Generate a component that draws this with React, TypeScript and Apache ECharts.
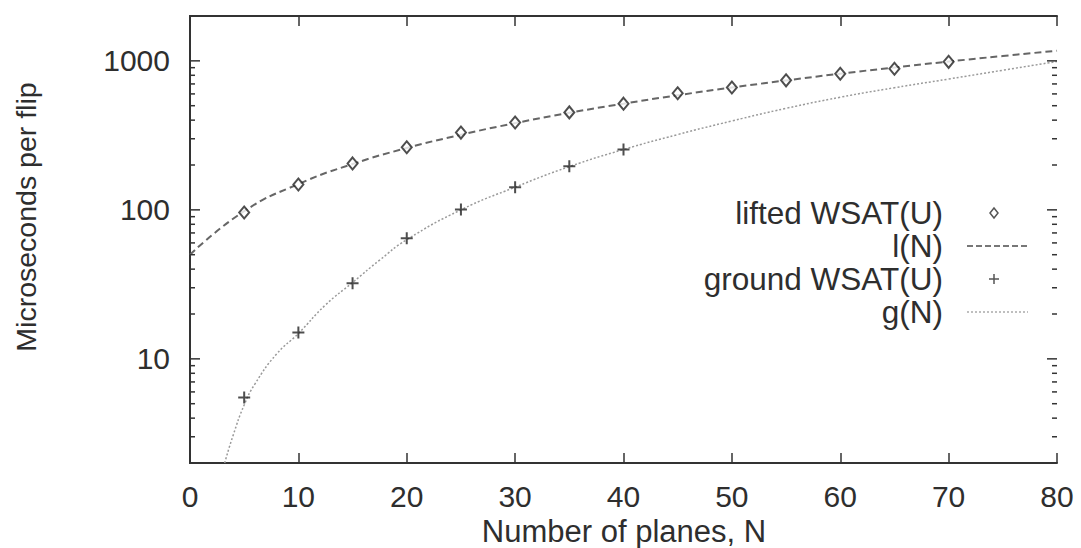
import React, { useEffect, useRef } from "react";
import * as echarts from "echarts";

// ---- data ----
const liftedN = [5, 10, 15, 20, 25, 30, 35, 40, 45, 50, 55, 60, 65, 70];
const liftedUs = [96, 148, 205, 263, 330, 386, 451, 516, 606, 663, 740, 819, 885, 985];

const groundN = [5, 10, 15, 20, 25, 30, 35, 40];
const groundUs = [5.5, 15.0, 32.2, 64.4, 100.6, 142, 196, 254];

const lN = [0, 5, 10, 15, 20, 25, 30, 35, 40, 45, 50, 55, 60, 65, 70, 75, 80];
const lUs = [50, 98, 149, 203, 260, 319, 382, 448, 516, 588, 662, 739, 820, 903, 989, 1078, 1170];

const gN = [3.2, 4, 5, 6, 8, 10, 12.5, 15, 17.5, 20, 25, 30, 35, 40, 45, 50, 55, 60, 65, 70, 75, 80];
const gUs = [2.0, 3.1, 4.9, 6.8, 10.8, 14.8, 23, 32.5, 46, 63, 100, 142, 195, 254, 320, 395, 480, 570, 660, 755, 865, 990];

const yMajorTicks = [10, 100, 1000];
const yMinorTicks = [3, 4, 5, 6, 7, 8, 9, 20, 30, 40, 50, 60, 70, 80, 90, 200, 300, 400, 500, 600, 700, 800, 900, 2000];

const legendLabels = ["lifted WSAT(U)", "l(N)", "ground WSAT(U)", "g(N)"];
const xTitle = "Number of planes, N";
const yTitle = "Microseconds per flip";

const FONT = "'Liberation Sans', Arial, Helvetica, sans-serif";
const TXT = "#2e2e2e";

const plusPath = "path://M5,0h2v5h5v2h-5v5h-2v-5h-5v-2h5z";

export default function App() {
  const ref = useRef<HTMLDivElement>(null);
  useEffect(() => {
    document.body.style.margin = "0";
    const chart = echarts.init(ref.current!, null, { renderer: "svg" });

    const tickData = [
      ...yMajorTicks.map((v) => [0, v, 1]),
      ...yMinorTicks.map((v) => [0, v, 0]),
    ];

    const lx = 943;
    const rows = [213, 246, 279, 312];
    const s1 = 967;
    const s2 = 1028;
    const mx = 994;

    const graphic: any[] = [
      {
        type: "text",
        x: 26,
        y: 217,
        rotation: Math.PI / 2,
        style: { text: yTitle, fontSize: 28.5, fontFamily: FONT, fill: TXT, align: "center", verticalAlign: "middle" },
      },
      {
        type: "text",
        x: 624,
        y: 531,
        style: { text: xTitle, fontSize: 31, fontFamily: FONT, fill: TXT, align: "center", verticalAlign: "middle" },
      },
      ...legendLabels.map((t, i) => ({
        type: "text",
        x: lx,
        y: rows[i],
        style: { text: t, fontSize: 31.5, fontFamily: FONT, fill: TXT, align: "right", verticalAlign: "middle" },
      })),
      {
        type: "polygon",
        shape: { points: [[mx, rows[0] - 5], [mx + 4, rows[0]], [mx, rows[0] + 5], [mx - 4, rows[0]]] },
        style: { fill: "none", stroke: "#555", lineWidth: 1.5 },
      },
      {
        type: "line",
        shape: { x1: s1, y1: rows[1], x2: s2, y2: rows[1] },
        style: { stroke: "#777", lineWidth: 2, lineDash: [6, 3] },
      },
      {
        type: "line",
        shape: { x1: mx - 5, y1: rows[2], x2: mx + 5, y2: rows[2] },
        style: { stroke: "#555", lineWidth: 1.5 },
      },
      {
        type: "line",
        shape: { x1: mx, y1: rows[2] - 5, x2: mx, y2: rows[2] + 5 },
        style: { stroke: "#555", lineWidth: 1.5 },
      },
      {
        type: "line",
        shape: { x1: s1, y1: rows[3], x2: s2, y2: rows[3] },
        style: { stroke: "#aaa", lineWidth: 1.5, lineDash: [2, 2] },
      },
    ];

    const axisLine = { show: true, lineStyle: { color: "#333", width: 2 } };

    chart.setOption({
      animation: false,
      grid: { left: 190, right: 24, top: 16, bottom: 85, containLabel: false },
      xAxis: [
        {
          type: "value",
          min: 0,
          max: 80,
          interval: 10,
          position: "bottom",
          axisLine,
          axisTick: { show: true, inside: true, length: 10, lineStyle: { color: "#333", width: 1.5 } },
          axisLabel: { fontSize: 30, fontFamily: FONT, color: TXT, margin: 18 },
          splitLine: { show: false },
        },
        {
          type: "value",
          min: 0,
          max: 80,
          interval: 10,
          position: "top",
          axisLine,
          axisTick: { show: true, inside: true, length: 10, lineStyle: { color: "#333", width: 1.5 } },
          axisLabel: { show: false },
          splitLine: { show: false },
        },
      ],
      yAxis: [
        {
          type: "log",
          logBase: 10,
          min: 2,
          max: 2000,
          position: "left",
          axisLine,
          axisTick: { show: false },
          axisLabel: {
            fontSize: 30,
            fontFamily: FONT,
            color: TXT,
            margin: 20,
            formatter: (v: number) => {
              const r = Math.round(v);
              return yMajorTicks.includes(r) ? String(r) : "";
            },
          },
          splitLine: { show: false },
        },
        {
          type: "log",
          logBase: 10,
          min: 2,
          max: 2000,
          position: "right",
          axisLine,
          axisTick: { show: false },
          axisLabel: { show: false },
          splitLine: { show: false },
        },
      ],
      graphic,
      series: [
        {
          type: "custom",
          silent: true,
          xAxisIndex: 0,
          yAxisIndex: 0,
          encode: { x: 0, y: 1 },
          data: tickData,
          z: 5,
          renderItem: (params: any, api: any) => {
            const v = api.value(1);
            const major = api.value(2) === 1;
            const len = major ? 10 : 5;
            const pl = api.coord([0, v]);
            const pr = api.coord([80, v]);
            return {
              type: "group",
              children: [
                { type: "line", shape: { x1: pl[0], y1: pl[1], x2: pl[0] + len, y2: pl[1] }, style: { stroke: "#333", lineWidth: 1.5 } },
                { type: "line", shape: { x1: pr[0] - len, y1: pr[1], x2: pr[0], y2: pr[1] }, style: { stroke: "#333", lineWidth: 1.5 } },
              ],
            };
          },
        },
        {
          name: "l(N)",
          type: "line",
          data: lN.map((n, i) => [n, lUs[i]]),
          smooth: true,
          showSymbol: false,
          lineStyle: { color: "#666", width: 2, type: [7, 4] },
          z: 2,
        },
        {
          name: "g(N)",
          type: "line",
          data: gN.map((n, i) => [n, gUs[i]]),
          smooth: true,
          showSymbol: false,
          lineStyle: { color: "#9a9a9a", width: 1.5, type: [2, 2] },
          z: 2,
        },
        {
          name: "lifted WSAT(U)",
          type: "scatter",
          data: liftedN.map((n, i) => [n, liftedUs[i]]),
          symbol: "diamond",
          symbolSize: [10, 12],
          itemStyle: { color: "#fff", borderColor: "#222", borderWidth: 2 },
          z: 4,
        },
        {
          name: "ground WSAT(U)",
          type: "scatter",
          data: groundN.map((n, i) => [n, groundUs[i]]),
          symbol: plusPath,
          symbolSize: 12,
          itemStyle: { color: "#222" },
          z: 4,
        },
      ],
    });
    return () => chart.dispose();
  }, []);
  return <div ref={ref} style={{ width: 1081, height: 548 }} />;
}
